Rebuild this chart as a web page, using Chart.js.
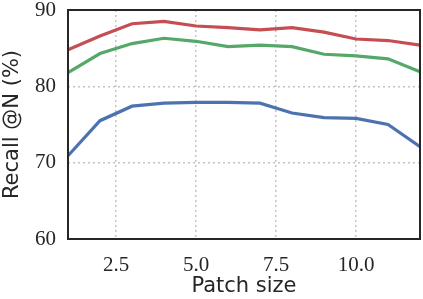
<!DOCTYPE html>
<html>
<head>
<meta charset="utf-8">
<script src="https://cdn.jsdelivr.net/npm/chart.js@4"></script>
<style>
  html, body { margin: 0; padding: 0; background: #fff; }
  #wrap { width: 423px; height: 299px; position: relative; }
</style>
</head>
<body>
<div id="wrap"><canvas id="chart"></canvas></div>
<script>
// patch sizes on the x axis
const patchSizes = [1, 2, 3, 4, 5, 6, 7, 8, 9, 10, 11, 12];

// recall values
const recallRed   = [84.8, 86.6, 88.2, 88.5, 87.9, 87.7, 87.4, 87.7, 87.1, 86.2, 86.0, 85.4];
const recallGreen = [81.8, 84.3, 85.6, 86.3, 85.9, 85.2, 85.4, 85.2, 84.2, 84.0, 83.6, 81.9];
const recallBlue  = [70.9, 75.5, 77.4, 77.8, 77.9, 77.9, 77.8, 76.5, 75.9, 75.8, 75.0, 72.1];

const xTicks = [2.5, 5.0, 7.5, 10.0];
const yTicks = [60, 70, 80, 90];

const tickFont = { family: 'Liberation Serif', size: 21 };
const titleFont = { family: 'DejaVu Sans', size: 21 };

// black frame around the plot area
const frame = {
    id: 'frame',
    afterDatasetsDraw(chart) {
        const a = chart.chartArea;
        const ctx = chart.ctx;
        ctx.save();
        ctx.strokeStyle = '#262626';
        ctx.lineWidth = 2;
        ctx.strokeRect(a.left, a.top, a.right - a.left, a.bottom - a.top);
        ctx.restore();
    }
};

function series(values, color) {
    return {
        data: patchSizes.map((x, i) => ({ x: x, y: values[i] })),
        borderColor: color,
        borderWidth: 3.2,
        pointRadius: 0,
        tension: 0,
        fill: false
    };
}

new Chart(document.getElementById('chart'), {
    type: 'line',
    data: {
        datasets: [
            series(recallRed, '#C44E52'),
            series(recallGreen, '#55A868'),
            series(recallBlue, '#4C72B0')
        ]
    },
    plugins: [frame],
    options: {
        responsive: true,
        maintainAspectRatio: false,
        animation: false,
        layout: { padding: { top: 10, right: 3, left: 0, bottom: 0 } },
        plugins: { legend: { display: false }, tooltip: { enabled: false } },
        scales: {
            x: {
                type: 'linear',
                min: 1,
                max: 12,
                afterBuildTicks(scale) { scale.ticks = xTicks.map(v => ({ value: v })); },
                afterFit(scale) { scale.height = 60; scale.paddingLeft = 0; scale.paddingRight = 0; },
                ticks: {
                    font: tickFont,
                    color: '#262626',
                    padding: 14,
                    callback: v => v.toFixed(1)
                },
                grid: { color: '#c4c4c4', lineWidth: 1.5, drawTicks: false },
                border: { display: false, dash: [2, 3] },
                title: { display: true, text: 'Patch size', font: titleFont, color: '#262626', padding: { top: 0, bottom: 0 } }
            },
            y: {
                min: 60,
                max: 90,
                afterBuildTicks(scale) { scale.ticks = yTicks.map(v => ({ value: v })); },
                afterFit(scale) { scale.width = 68; scale.paddingTop = 0; scale.paddingBottom = 0; },
                ticks: {
                    font: tickFont,
                    color: '#262626',
                    padding: 12
                },
                grid: { color: '#c4c4c4', lineWidth: 1.5, drawTicks: false },
                border: { display: false, dash: [2, 3] },
                title: { display: true, text: 'Recall @N (%)', font: titleFont, color: '#262626', padding: { top: 0, bottom: 2 } }
            }
        }
    }
});
</script>
</body>
</html>
